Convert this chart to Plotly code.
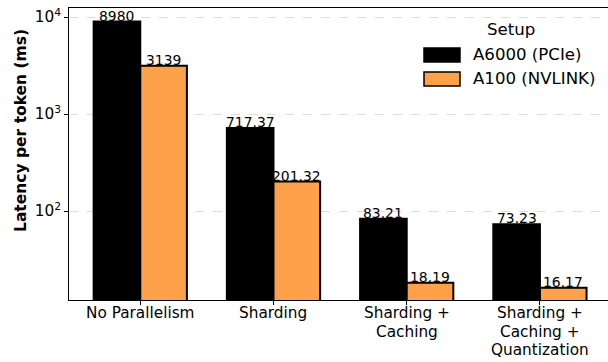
import math
import plotly.graph_objects as go

# Latency per token for each configuration and hardware setup
categories = ["No Parallelism", "Sharding", "Sharding +\nCaching",
              "Sharding +\nCaching +\nQuantization"]
a6000_pcie = [8980, 717.37, 83.21, 73.23]
a100_nvlink = [3139, 201.32, 18.19, 16.17]
series_names = ["A6000 (PCIe)", "A100 (NVLINK)"]
ytick_vals = [100, 1000, 10000]
ytick_text = ["10<sup>2</sup>", "10<sup>3</sup>", "10<sup>4</sup>"]

W, H = 608, 362
ML, MR, MT, MB = 69, 0, 8, 62
FONT = "DejaVu Sans"
TICK_SIZE = 15.3
LABEL_SIZE = 13.9
LEGEND_SIZE = 16.6
LINE_STEP = 18.6
BAR_W = 0.35
BLACK = "#000000"
ORANGE = "#FFA04B"

idx = list(range(len(categories)))
x_left = [i - BAR_W / 2 for i in idx]
x_right = [i + BAR_W / 2 for i in idx]

fig = go.Figure()
fig.add_trace(go.Bar(x=x_left, y=a6000_pcie, width=BAR_W, name=series_names[0],
                     marker=dict(color=BLACK, line=dict(color=BLACK, width=2))))
fig.add_trace(go.Bar(x=x_right, y=a100_nvlink, width=BAR_W, name=series_names[1],
                     marker=dict(color=ORANGE, line=dict(color=BLACK, width=2))))

# value labels on top of the bars
annotations = []
for xs, vals in ((x_left, a6000_pcie), (x_right, a100_nvlink)):
    for x, v in zip(xs, vals):
        annotations.append(dict(x=x, y=math.log10(v), xref="x", yref="y",
                                text=f"{v:g}", showarrow=False, yanchor="bottom",
                                yshift=-4, font=dict(family=FONT, size=LABEL_SIZE, color="black")))

pw, ph = W - ML - MR, H - MT - MB


def px(x):
    return (x - ML) / pw


def py(y):
    return (H - MB - y) / ph


# category labels under the ticks, one line at a time for tighter line spacing
for i, cat in zip(idx, categories):
    for k, line in enumerate(cat.split("\n")):
        annotations.append(dict(x=i, y=py(313 + LINE_STEP * k), xref="x", yref="paper",
                                text=line, showarrow=False, xanchor="center", yanchor="middle",
                                font=dict(family=FONT, size=TICK_SIZE, color="black")))

# hand-drawn legend with wide patches
shapes = []
for (y0, y1), col in (((48, 62), BLACK), ((72, 86), ORANGE)):
    shapes.append(dict(type="rect", xref="paper", yref="paper",
                       x0=px(424), x1=px(460), y0=py(y1), y1=py(y0),
                       fillcolor=col, line=dict(color=BLACK, width=1.5)))
annotations.append(dict(x=px(511), y=py(30), xref="paper", yref="paper", text="Setup",
                        showarrow=False, xanchor="center", yanchor="middle",
                        font=dict(family=FONT, size=LEGEND_SIZE, color="black")))
for yc, name in ((55, series_names[0]), (79, series_names[1])):
    annotations.append(dict(x=px(471), y=py(yc), xref="paper", yref="paper", text=name,
                            showarrow=False, xanchor="left", yanchor="middle",
                            font=dict(family=FONT, size=LEGEND_SIZE, color="black")))

# y-axis title
annotations.append(dict(x=px(21), y=py(131), xref="paper", yref="paper",
                        text="<b>Latency per token (ms)</b>", textangle=-90,
                        showarrow=False, xanchor="center", yanchor="middle",
                        font=dict(family=FONT, size=15.5, color="black")))

fig.update_layout(
    width=W, height=H,
    margin=dict(l=ML, r=MR, t=MT, b=MB, autoexpand=False),
    paper_bgcolor="white", plot_bgcolor="white",
    showlegend=False,
    annotations=annotations,
    shapes=shapes,
    font=dict(family=FONT, size=TICK_SIZE, color="black"),
)
fig.update_xaxes(
    range=[-0.535, 3.511], tickvals=idx, showticklabels=False,
    showline=True, linecolor="black", linewidth=1, mirror=True,
    ticks="outside", ticklen=4, tickcolor="black", showgrid=False, zeroline=False,
    automargin=False,
)
fig.update_yaxes(
    type="log", range=[1.0825, 4.093],
    tickvals=ytick_vals, ticktext=ytick_text,
    showline=True, linecolor="black", linewidth=1,
    ticks="outside", ticklen=4, tickcolor="black",
    showgrid=True, gridcolor="#dddddd", griddash="dash", gridwidth=1,
    tickfont=dict(family=FONT, size=TICK_SIZE, color="black"),
    automargin=False,
)

fig.write_html("out.html")
